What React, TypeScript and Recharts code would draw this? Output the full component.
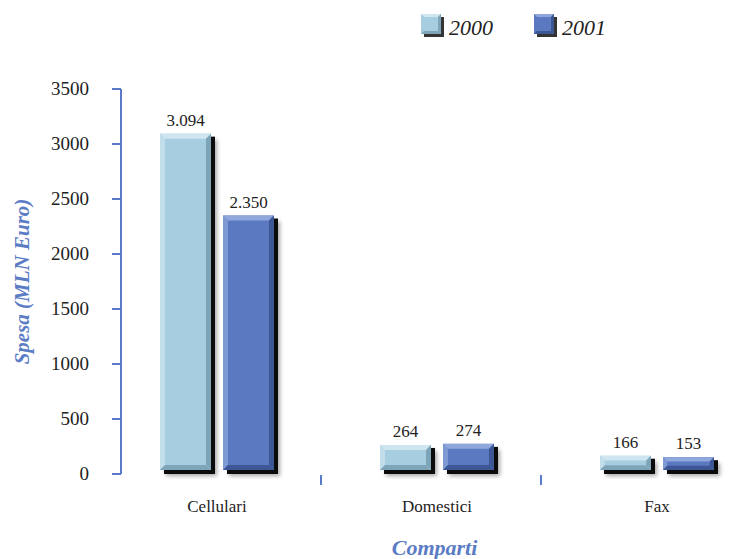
import React from "react";
import { Bar, BarChart, LabelList, XAxis, YAxis } from "recharts";

const categories = ["Cellulari", "Domestici", "Fax"];
const values2000 = [3094, 264, 166];
const values2001 = [2350, 274, 153];
const seriesNames = ["2000", "2001"];
const yTicks = [0, 500, 1000, 1500, 2000, 2500, 3000, 3500];

const SERIF = "Liberation Serif, serif";
const AXIS_BLUE = "#5b7bc9";
const LABEL_BLUE = "#5b7cc4";

const palette = [
  { face: "#a6cde0", light: "#cfe5ef", dark: "#7ea5b7" },
  { face: "#5a79c1", light: "#8fa7db", dark: "#3d5695" },
];

const data = categories.map((name, i) => ({
  name,
  y2000: values2000[i],
  y2001: values2001[i],
}));

const fmt = (v: any) =>
  String(v).replace(/\B(?=(\d{3})+(?!\d))/g, ".");

function bevelBar(colors: { face: string; light: string; dark: string }) {
  return (props: any) => {
    const { x, y, width, height } = props;
    if (!height || height <= 0) return <g />;
    const sh = 4;
    const fw = width;
    const fh = Math.max(height - sh, 2);
    const b = Math.min(5, fh / 3);
    return (
      <g>
        <rect x={x + 6} y={y + 6} width={fw} height={fh} fill="#000" opacity={0.35} filter="url(#soft)" />
        <rect x={x + sh} y={y + sh - 1} width={fw} height={fh + 1} fill="#0b0b0b" />
        <rect x={x} y={y} width={fw} height={fh} fill={colors.face} />
        <polygon
          points={`${x},${y} ${x + fw},${y} ${x + fw - b},${y + b} ${x + b},${y + b}`}
          fill={colors.light}
        />
        <polygon
          points={`${x},${y} ${x + b},${y + b} ${x + b},${y + fh - b} ${x},${y + fh}`}
          fill={colors.light}
          opacity={0.7}
        />
        <polygon
          points={`${x + fw},${y} ${x + fw},${y + fh} ${x + fw - b},${y + fh - b} ${x + fw - b},${y + b}`}
          fill={colors.dark}
        />
        <polygon
          points={`${x},${y + fh} ${x + fw},${y + fh} ${x + fw - b},${y + fh - b} ${x + b},${y + fh - b}`}
          fill={colors.dark}
        />
      </g>
    );
  };
}

function CategoryTick(props: any) {
  const { x, y, payload, index, visibleTicksCount } = props;
  const half = payload?.offset ?? 110;
  const last = visibleTicksCount ? index === visibleTicksCount - 1 : index === 2;
  return (
    <g>
      {!last && (
        <line
          x1={x + half - 6}
          x2={x + half - 6}
          y1={y + 1}
          y2={y + 11}
          stroke={AXIS_BLUE}
          strokeWidth={2}
        />
      )}
      <text x={x} y={y + 38} textAnchor="middle" fill="#222" fontSize={17} style={{ fontFamily: SERIF }}>
        {payload.value}
      </text>
    </g>
  );
}

function YTick(props: any) {
  const { x, y, payload } = props;
  return (
    <text x={x} y={y} dy={6} textAnchor="end" fill="#222" fontSize={19} style={{ fontFamily: SERIF }}>
      {payload.value}
    </text>
  );
}

function YTitle(props: any) {
  const vb = props.viewBox || { y: 89, height: 385 };
  const cy = vb.y + vb.height / 2;
  return (
    <text
      x={0}
      y={0}
      transform={`translate(29, ${cy}) rotate(-90)`}
      textAnchor="middle"
      fill={LABEL_BLUE}
      fontSize={21}
      fontWeight="bold"
      fontStyle="italic"
      style={{ fontFamily: SERIF }}
    >
      Spesa (MLN Euro)
    </text>
  );
}

function XTitle(props: any) {
  const vb = props.viewBox || { x: 121, width: 635 };
  return (
    <text
      x={vb.x + vb.width / 2 - 4}
      y={555}
      textAnchor="middle"
      fill={LABEL_BLUE}
      fontSize={22}
      fontWeight="bold"
      fontStyle="italic"
      style={{ fontFamily: SERIF }}
    >
      Comparti
    </text>
  );
}

function LegendBox({ colors, x, label }: any) {
  return (
    <g>
      <rect x={x + 3} y={17} width={20} height={20} fill="#111" opacity={0.85} />
      <rect x={x} y={14} width={20} height={20} fill={colors.face} />
      <polygon points={`${x},14 ${x + 20},14 ${x + 17},17 ${x + 3},17`} fill={colors.light} />
      <polygon points={`${x + 20},14 ${x + 20},34 ${x + 17},31 ${x + 17},17`} fill={colors.dark} />
      <polygon points={`${x},34 ${x + 20},34 ${x + 17},31 ${x + 3},31`} fill={colors.dark} />
      <text x={x + 28} y={35} fill="#222" fontSize={22} fontStyle="italic" style={{ fontFamily: SERIF }}>
        {label}
      </text>
    </g>
  );
}

export default function App() {
  return (
    <div
      style={{
        position: "fixed",
        left: 0,
        top: 0,
        width: 756,
        height: 559,
        background: "#fff",
        overflow: "hidden",
        fontFamily: SERIF,
      }}
    >
      <svg width={756} height={50} style={{ position: "absolute", left: 0, top: 0 }}>
        <LegendBox colors={palette[0]} x={421} label={seriesNames[0]} />
        <LegendBox colors={palette[1]} x={534} label={seriesNames[1]} />
      </svg>
      <BarChart
        width={756}
        height={559}
        data={data}
        margin={{ top: 89, right: 0, left: 0, bottom: 25 }}
        barSize={51}
        barGap={12}
        style={{ fontFamily: SERIF }}
      >
        <defs>
          <filter id="soft" x="-20%" y="-20%" width="140%" height="140%">
            <feGaussianBlur stdDeviation="2" />
          </filter>
        </defs>
        <XAxis
          dataKey="name"
          axisLine={false}
          tickLine={false}
          tickSize={0}
          tickMargin={0}
          height={60}
          interval={0}
          padding={{ left: -14, right: -11 }}
          tick={<CategoryTick />}
          label={<XTitle />}
        />
        <YAxis
          width={121}
          domain={[0, 3500]}
          ticks={yTicks}
          interval={0}
          axisLine={{ stroke: AXIS_BLUE, strokeWidth: 2 }}
          tickLine={{ stroke: AXIS_BLUE, strokeWidth: 2 }}
          tickSize={9}
          tickMargin={23}
          tick={<YTick />}
          label={<YTitle />}
        />
        <Bar dataKey="y2000" name={seriesNames[0]} shape={bevelBar(palette[0])} isAnimationActive={false}>
          <LabelList dataKey="y2000" position="top" offset={8} formatter={fmt} fill="#222" fontSize={17} style={{ fontFamily: SERIF }} />
        </Bar>
        <Bar dataKey="y2001" name={seriesNames[1]} shape={bevelBar(palette[1])} isAnimationActive={false}>
          <LabelList dataKey="y2001" position="top" offset={8} formatter={fmt} fill="#222" fontSize={17} style={{ fontFamily: SERIF }} />
        </Bar>
      </BarChart>
    </div>
  );
}
